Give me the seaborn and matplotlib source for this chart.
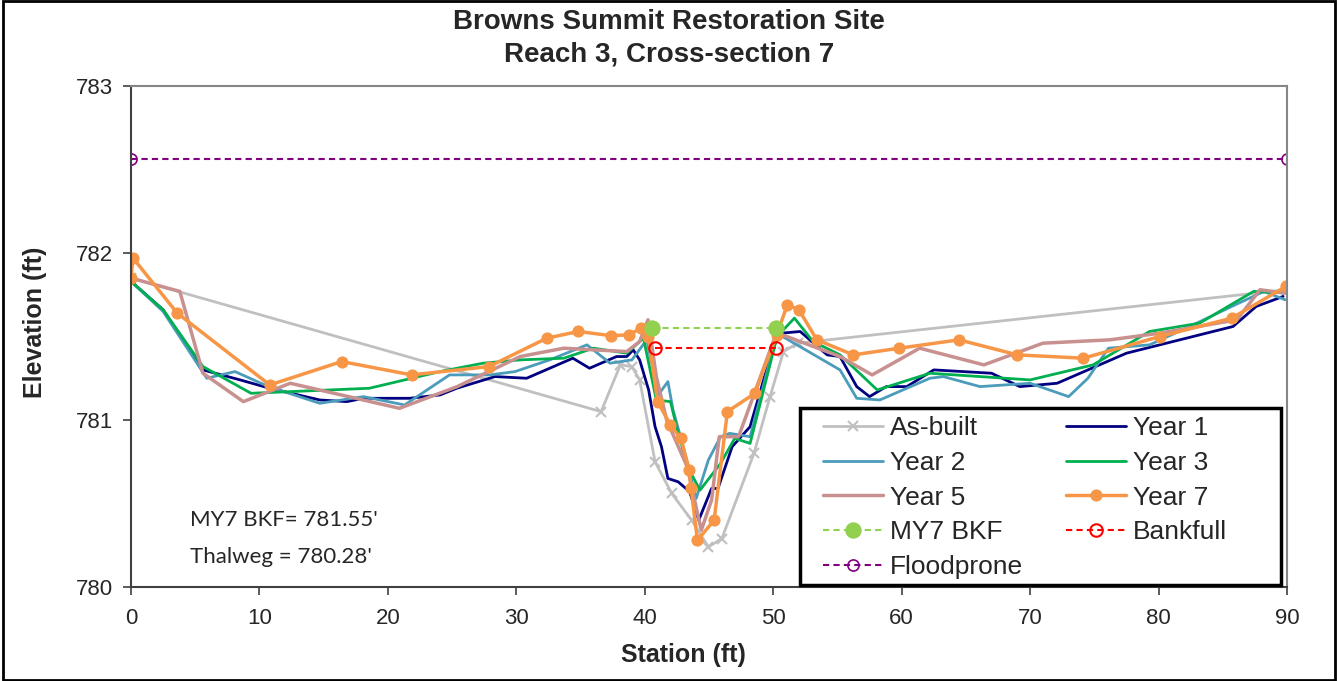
import matplotlib
matplotlib.use("Agg")
import matplotlib.pyplot as plt
from matplotlib.patches import Rectangle
import seaborn as sns

# Survey data: station (ft) and elevation (ft) for each monitoring year
asbuilt_x = [0, 36.6, 38.1, 39.0, 39.6, 40.8, 42.1, 43.65, 44.95, 46.0, 48.5, 49.75, 50.8, 51.9, 90]
asbuilt_y = [781.85, 781.05, 781.33, 781.32, 781.24, 780.75, 780.56, 780.40, 780.24, 780.29,
             780.80, 781.14, 781.41, 781.46, 781.78]

year1_x = [0, 2.5, 5.6, 8.5, 10.8, 14.7, 16.8, 18.1, 21.7, 24.06, 25.36, 28.34, 30.8, 34.4, 35.7,
           37.8, 38.6, 39.1, 39.6, 40.3, 40.8, 41.3, 41.8, 42.6, 43.5, 44.2, 45.2, 45.7, 46.8, 48.2,
           50.0, 50.66, 52.1, 54.2, 55.2, 56.5, 57.5, 58.8, 60.4, 62.5, 67.0, 69.2, 72.1, 77.5,
           85.8, 87.6, 89.7]
year1_y = [781.83, 781.66, 781.30, 781.24, 781.19, 781.12, 781.11, 781.13, 781.13, 781.15, 781.19,
           781.26, 781.25, 781.37, 781.31, 781.38, 781.38, 781.42, 781.36, 781.18, 780.96, 780.84,
           780.65, 780.63, 780.57, 780.40, 780.59, 780.59, 780.84, 780.96, 781.44, 781.52, 781.53,
           781.39, 781.38, 781.20, 781.14, 781.20, 781.20, 781.30, 781.28, 781.20, 781.22, 781.40,
           781.56, 781.68, 781.74]

year2_x = [0, 2.5, 5.9, 8.1, 10.7, 14.7, 18.1, 21.3, 24.8, 27.95, 29.9, 32.6, 35.5, 37.3, 39.0,
           40.15, 41.05, 41.8, 42.2, 43.0, 44.0, 44.95, 45.9, 46.6, 48.2, 50.1, 50.5, 55.2, 56.5,
           58.3, 62.2, 63.25, 66.1, 70.0, 73.0, 74.5, 76.1, 79.3, 82.7, 85.7, 88.2, 89.85]
year2_y = [781.83, 781.65, 781.25, 781.29, 781.20, 781.10, 781.14, 781.09, 781.27, 781.27, 781.29,
           781.36, 781.45, 781.34, 781.36, 781.48, 781.15, 781.23, 781.06, 780.84, 780.53, 780.76,
           780.90, 780.92, 780.90, 781.46, 781.51, 781.30, 781.13, 781.12, 781.25, 781.26, 781.20,
           781.22, 781.14, 781.25, 781.43, 781.45, 781.57, 781.68, 781.77, 781.72]

year3_x = [0, 2.5, 5.6, 9.35, 18.55, 24.06, 27.4, 30.3, 33.7, 36.0, 38.6, 39.9, 40.9, 42.0, 42.6,
           43.4, 44.3, 45.9, 47.0, 48.2, 50.3, 51.65, 53.1, 55.2, 58.1, 62.2, 70.0, 74.9, 79.3,
           83.2, 87.4, 90.0]
year3_y = [781.83, 781.66, 781.32, 781.16, 781.19, 781.29, 781.34, 781.36, 781.37, 781.43, 781.40,
           781.49, 781.12, 781.11, 780.92, 780.71, 780.58, 780.74, 780.89, 780.86, 781.50, 781.61,
           781.47, 781.39, 781.18, 781.28, 781.24, 781.33, 781.53, 781.58, 781.77, 781.76]

year5_x = [0, 3.8, 5.6, 8.75, 12.4, 20.9, 25.4, 30.3, 33.7, 36.0, 38.6, 39.6, 40.25, 40.9, 41.7,
           43.3, 44.4, 45.2, 45.8, 47.3, 50.1, 50.7, 55.2, 57.7, 61.4, 66.4, 71.0, 76.2, 80.1,
           86.1, 87.9, 89.85]
year5_y = [781.85, 781.77, 781.28, 781.11, 781.22, 781.07, 781.20, 781.38, 781.43, 781.42, 781.41,
           781.47, 781.60, 781.26, 781.00, 780.72, 780.34, 780.52, 780.90, 780.90, 781.49, 781.51,
           781.38, 781.27, 781.43, 781.33, 781.46, 781.48, 781.52, 781.60, 781.78, 781.76]

year7_x = [0, 0.15, 3.6, 10.8, 16.4, 21.85, 27.87, 32.37, 34.83, 37.37, 38.8, 39.68, 40.28, 41.0,
           42.0, 42.8, 43.47, 43.6, 44.1, 45.4, 46.43, 48.58, 50.27, 51.1, 52.0, 53.4, 56.24,
           59.82, 64.47, 69.0, 74.15, 80.1, 85.7, 89.93]
year7_y = [781.85, 781.97, 781.64, 781.21, 781.35, 781.27, 781.32, 781.49, 781.53, 781.505, 781.51,
           781.55, 781.50, 781.11, 780.97, 780.89, 780.70, 780.59, 780.28, 780.40, 781.05, 781.16,
           781.51, 781.69, 781.66, 781.48, 781.39, 781.43, 781.48, 781.39, 781.37, 781.50, 781.61,
           781.80]

my7bkf_x = [40.56, 50.2]
my7bkf_y = [781.55, 781.55]
bankfull_x = [40.8, 50.2]
bankfull_y = [781.43, 781.43]
floodprone_x = [0, 90]
floodprone_y = [782.56, 782.56]

x_ticks = [0, 10, 20, 30, 40, 50, 60, 70, 80, 90]
y_ticks = [780, 781, 782, 783]

sns.set_theme(style="white")
plt.rcParams["font.family"] = ["Liberation Sans", "DejaVu Sans"]

fig = plt.figure(figsize=(13.38, 6.81), dpi=100)
ax = fig.add_axes([131 / 1338, 1 - 587 / 681, 1156 / 1338, 501 / 681])

common = dict(ax=ax, sort=False, estimator=None)
sns.lineplot(x=asbuilt_x, y=asbuilt_y, color="#c0c0c0", lw=2.0, marker="x", markersize=7,
             markeredgewidth=1.5, markeredgecolor="#c0c0c0", label="As-built", **common)
sns.lineplot(x=year1_x, y=year1_y, color="#000080", lw=2.0, label="Year 1", **common)
sns.lineplot(x=year2_x, y=year2_y, color="#4a9cba", lw=2.0, label="Year 2", **common)
sns.lineplot(x=year3_x, y=year3_y, color="#00b050", lw=2.0, label="Year 3", **common)
sns.lineplot(x=year5_x, y=year5_y, color="#c8908e", lw=2.5, label="Year 5", **common)
sns.lineplot(x=year7_x, y=year7_y, color="#f79646", lw=2.5, marker="o", markersize=8,
             markeredgecolor="#f79646", label="Year 7", **common)
sns.lineplot(x=my7bkf_x, y=my7bkf_y, color="#92d050", lw=1.5, linestyle=(0, (3, 2)), marker="o",
             markersize=11, markeredgecolor="#92d050", label="MY7 BKF", **common)
sns.lineplot(x=bankfull_x, y=bankfull_y, color="#ff0000", lw=1.5, linestyle=(0, (3, 2)), marker="o",
             markersize=9, markerfacecolor="none", markeredgecolor="#ff0000", markeredgewidth=1.5,
             label="Bankfull", **common)
sns.lineplot(x=floodprone_x, y=floodprone_y, color="#800080", lw=1.5, linestyle=(0, (3, 2)), marker="o",
             markersize=8, markerfacecolor="none", markeredgecolor="#800080", markeredgewidth=1.2,
             label="Floodprone", **common)

ax.set_xlim(0, 90)
ax.set_ylim(780, 783)
ax.set_xticks(x_ticks)
ax.set_yticks(y_ticks)
ax.tick_params(axis="both", which="major", labelsize=16, length=6, width=1.2,
               color="#404040", direction="out", left=True, bottom=True)
ax.tick_params(axis="y", pad=7)
ax.tick_params(axis="x", pad=9)
for s in ax.spines.values():
    s.set_color("#868686")
    s.set_linewidth(1.5)
ax.spines["left"].set_color("#404040")
ax.spines["bottom"].set_color("#404040")

ax.set_xlabel("Station (ft)", fontsize=18, fontweight="bold")
ax.set_ylabel("Elevation (ft)", fontsize=18, fontweight="bold")
ax.xaxis.set_label_coords((683 - 131) / 1156, (587 - 655) / 501)
ax.yaxis.set_label_coords((35 - 131) / 1156, (587 - 322) / 501)
ax.xaxis.label.set_va("center")
ax.yaxis.label.set_va("center")

fig.text(0.5, 1 - 22 / 681, "Browns Summit Restoration Site", ha="center", va="center",
         fontsize=20, fontweight="bold")
fig.text(0.5, 1 - 55 / 681, "Reach 3, Cross-section 7", ha="center", va="center",
         fontsize=20, fontweight="bold")

ax.text(0.051, 0.134, "MY7 BKF= 781.55'", transform=ax.transAxes, ha="left", va="center",
        fontsize=16, family=["Lato", "DejaVu Sans"])
ax.text(0.051, 0.060, "Thalweg = 780.28'", transform=ax.transAxes, ha="left", va="center",
        fontsize=16, family=["Lato", "DejaVu Sans"])

# Legend box, drawn as its own frame so the entries sit inside a fixed rectangle
ax.add_patch(Rectangle(((800 - 131) / 1156, (587 - 585) / 501), 481 / 1156, 177 / 501,
                       transform=ax.transAxes, facecolor="white", edgecolor="black",
                       linewidth=2.5, zorder=5, clip_on=False))

# Legend filled row by row in two columns
handles, labels = ax.get_legend_handles_labels()
lookup = dict(zip(labels, handles))
order = ["As-built", "Year 2", "Year 5", "MY7 BKF", "Floodprone",
         "Year 1", "Year 3", "Year 7", "Bankfull"]
leg = ax.legend([lookup[k] for k in order], order, ncol=2, loc="upper left",
                bbox_to_anchor=((823 - 131) / 1156, (587 - 416) / 501),
                fontsize=19, frameon=False, borderpad=0, labelspacing=0.41,
                handlelength=2.27, handletextpad=0.27, columnspacing=1.63, borderaxespad=0)
leg.set_zorder(6)

fig.patches.append(Rectangle((0.002, 0.002), 0.996, 0.996, transform=fig.transFigure,
                             fill=False, edgecolor="black", linewidth=2))

fig.savefig("out.png", dpi=100)
